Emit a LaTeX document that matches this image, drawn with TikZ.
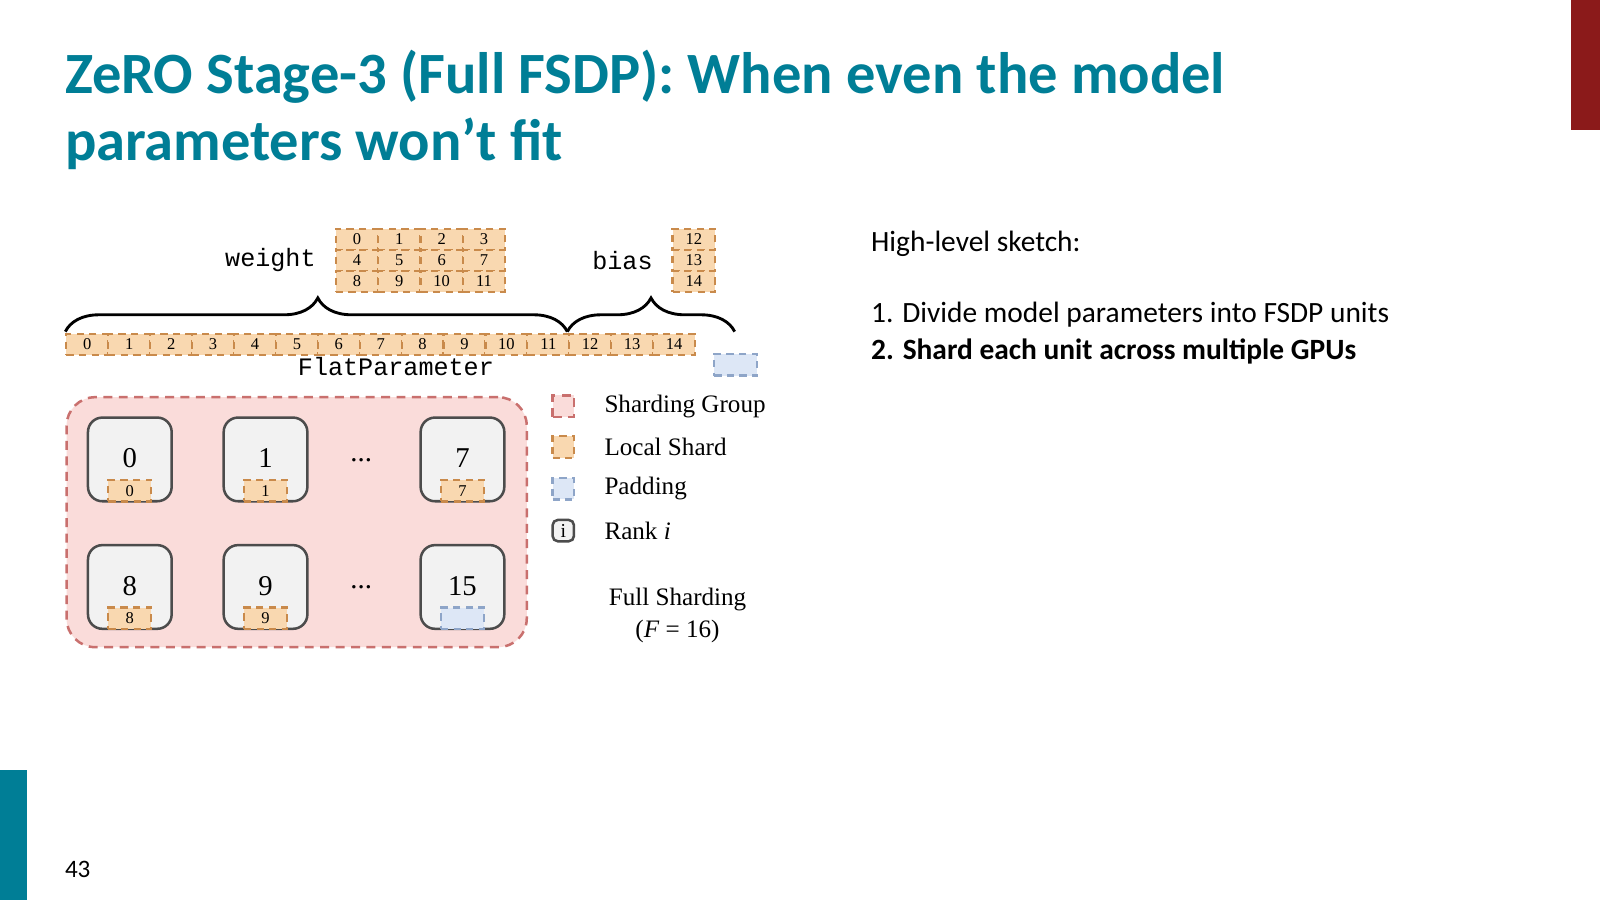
\documentclass[tikz,border=0pt]{standalone}
\usepackage{fontspec}
\setmainfont{Carlito}
\newfontfamily\tms{Liberation Serif}
\newfontfamily\cour{Liberation Mono}
\usetikzlibrary{decorations.pathreplacing}
\definecolor{teal}{HTML}{007E96}
\definecolor{darkred}{HTML}{8B1A1A}
\definecolor{shardfill}{HTML}{F9D8B0}
\definecolor{sharddraw}{HTML}{C98A4B}
\definecolor{padfill}{HTML}{DDE7F6}
\definecolor{paddraw}{HTML}{8EA5C8}
\definecolor{grpfill}{HTML}{FADCDA}
\definecolor{grpdraw}{HTML}{C9706E}
\tikzset{
  shard/.style={draw=sharddraw,fill=shardfill,dashed,line width=0.6pt,dash pattern=on 2pt off 1.5pt},
  pad/.style={draw=paddraw,fill=padfill,line width=0.6pt,dash pattern=on 2pt off 1.5pt},
  grp/.style={draw=grpdraw,fill=grpfill,line width=0.7pt,dash pattern=on 2.5pt off 1.8pt,rounded corners=8pt},
  rank/.style={draw=black!70,fill=black!5,line width=0.7pt,rounded corners=4pt},
  cellnum/.style={font=\tms\fontsize{4.6}{5}\selectfont},
  ranknum/.style={font=\tms\fontsize{8}{9}\selectfont},
  leg/.style={font=\tms\fontsize{7}{8}\selectfont,anchor=west},
  mono/.style={font=\cour\fontsize{7}{8}\selectfont},
}
\begin{document}
\begin{tikzpicture}[x=0.01cm,y=-0.01cm]
\useasboundingbox (0,0) rectangle (1568,882);
\fill[white] (0,0) rectangle (1568,882);
\fill[darkred] (1540,0) rectangle (1568,127);
\fill[teal] (0,755) rectangle (26,882);
% title
\node[anchor=base west,inner sep=0,font=\bfseries\fontsize{16.3}{18.5}\selectfont,text=teal] (t1) at (63,92) {ZeRO Stage-3 (Full FSDP): When even the model};
\node[anchor=base west,inner sep=0,font=\bfseries\fontsize{16.3}{18.5}\selectfont,text=teal] (t2) at (63,157) {parameters won’t fit};
\node[anchor=base west,inner sep=0,font=\fontsize{7}{8}\selectfont] (pn) at (63,860) {43};
% right text
\node[anchor=base west,inner sep=0,font=\fontsize{8.2}{10}\selectfont] (r1) at (853,246) {High-level sketch:};
\node[anchor=base west,inner sep=0,font=\fontsize{8.2}{10}\selectfont] (r2) at (853,316) {1. Divide model parameters into FSDP units};
\node[anchor=base west,inner sep=0,font=\bfseries\fontsize{8.2}{10}\selectfont] (r3) at (853,352) {2. Shard each unit across multiple GPUs};
% weight grid
\foreach \r in {0,1,2}{\foreach \c in {0,1,2,3}{
  \pgfmathtruncatemacro{\n}{4*\r+\c}
  \node[shard,minimum width=41.5*0.01cm,minimum height=20.7*0.01cm,inner sep=0,cellnum,anchor=north west] (w\n) at ({328+41.5*\c},{223+20.7*\r}) {\n};
}}
\foreach \r in {0,1,2}{
  \pgfmathtruncatemacro{\n}{12+\r}
  \node[shard,minimum width=42*0.01cm,minimum height=20.7*0.01cm,inner sep=0,cellnum,anchor=north west] (b\n) at (658,{223+20.7*\r}) {\n};
}
\node[mono] (wl) at (265,255) {weight};
\node[mono] (bl) at (610,255) {bias};
% flat parameter
\foreach \c in {0,...,14}{
  \node[shard,minimum width=41.07*0.01cm,minimum height=21*0.01cm,inner sep=0,cellnum,anchor=north west] (f\c) at ({64+41.07*\c},326) {\c};
}
\node[pad,minimum width=42*0.01cm,minimum height=21*0.01cm,inner sep=0,anchor=north west] (fp) at (699,346) {};
\node[mono] (flab) at (388,359) {FlatParameter};
\coordinate (ba) at (64,325); \coordinate (bb) at (556,325); \coordinate (bc) at (720,325);
\draw[line width=0.8pt,decorate,decoration={brace,amplitude=0.33cm,aspect=0.503}] (ba) -- (bb);
\draw[line width=0.8pt,decorate,decoration={brace,amplitude=0.33cm,aspect=0.5}] (bb) -- (bc);
% group
\node[grp,minimum width=451*0.01cm,minimum height=245*0.01cm,anchor=north west] (grp) at (64,388) {};
\foreach \x/\n/\k in {85/0/s, 218/1/s, 411/7/s}{
  \node[rank,minimum width=82*0.01cm,minimum height=82*0.01cm,anchor=north west] (r\n) at (\x,408) {};
  \node[ranknum] at ([yshift=-0.41cm]r\n.north) {\n};
  \node[shard,minimum width=42*0.01cm,minimum height=21*0.01cm,inner sep=0,cellnum,anchor=south] at (r\n.south) {\n};
}
\foreach \x/\n in {85/8, 218/9}{
  \node[rank,minimum width=82*0.01cm,minimum height=82*0.01cm,anchor=north west] (r\n) at (\x,533) {};
  \node[ranknum] at ([yshift=-0.41cm]r\n.north) {\n};
  \node[shard,minimum width=42*0.01cm,minimum height=21*0.01cm,inner sep=0,cellnum,anchor=south] at (r\n.south) {\n};
}
\node[rank,minimum width=82*0.01cm,minimum height=82*0.01cm,anchor=north west] (r15) at (411,533) {};
\node[ranknum] at ([yshift=-0.41cm]r15.north) {15};
\node[pad,minimum width=42*0.01cm,minimum height=21*0.01cm,inner sep=0,anchor=south] at (r15.south) {};
\node[ranknum] (d1) at (354,451) {...};
\node[ranknum] (d2) at (354,575) {...};
% legend
\node[grp,rounded corners=0pt,minimum width=21*0.01cm,minimum height=21*0.01cm,inner sep=0] (l1) at (552,398) {};
\node[shard,minimum width=21*0.01cm,minimum height=21*0.01cm,inner sep=0] (l2) at (552,438) {};
\node[pad,minimum width=21*0.01cm,minimum height=21*0.01cm,inner sep=0] (l3) at (552,479) {};
\node[rank,rounded corners=1.5pt,minimum width=21*0.01cm,minimum height=21*0.01cm,inner sep=0,font=\tms\fontsize{5.5}{6}\selectfont] (l4) at (552,520) {i};
\node[leg] at (580,398) {Sharding Group};
\node[leg] at (580,438) {Local Shard};
\node[leg] at (580,479) {Padding};
\node[leg] at (580,520) {Rank \textit{i}};
\node[font=\tms\fontsize{7}{8}\selectfont,align=center] (fs) at (664,603) {Full Sharding\\[1pt](\textit{F} = 16)};
\end{tikzpicture}
\end{document}
